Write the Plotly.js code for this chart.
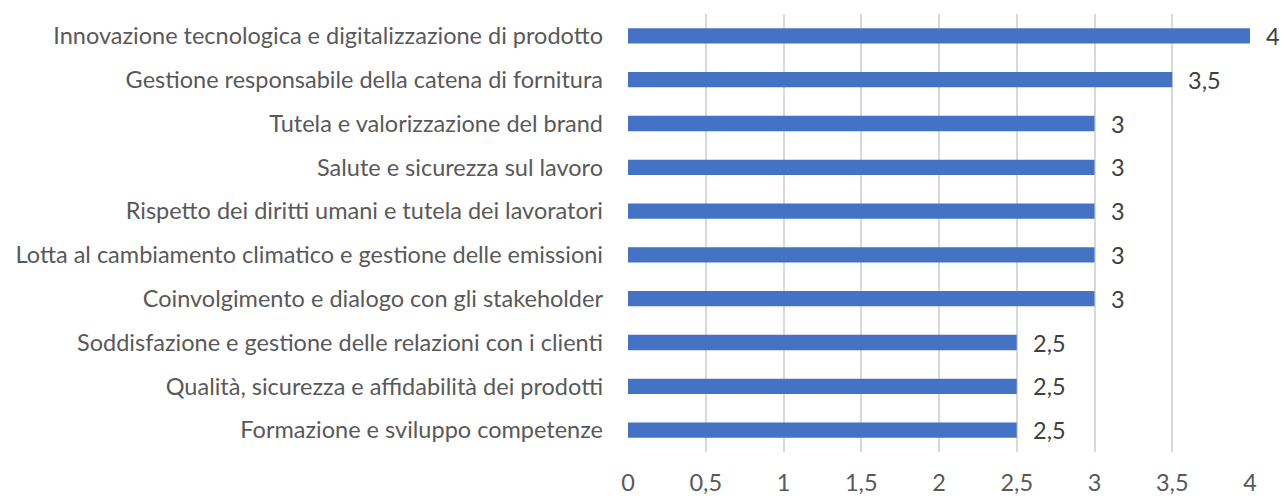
<!DOCTYPE html>
<html>
<head>
<meta charset="utf-8">
<script src="https://cdn.plot.ly/plotly-3.0.1.min.js"></script>
<style>html,body{margin:0;padding:0;background:#fff;}#chart{width:1282px;height:497px;}</style>
</head>
<body>
<div id="chart"></div>
<script>
const categories = [
  "Innovazione tecnologica e digitalizzazione di prodotto",
  "Gestione responsabile della catena di fornitura",
  "Tutela e valorizzazione del brand",
  "Salute e sicurezza sul lavoro",
  "Rispetto dei diritti umani e tutela dei lavoratori",
  "Lotta al cambiamento climatico e gestione delle emissioni",
  "Coinvolgimento e dialogo con gli stakeholder",
  "Soddisfazione e gestione delle relazioni con i clienti",
  "Qualità, sicurezza e affidabilità dei prodotti",
  "Formazione e sviluppo competenze"
];
const values = [4, 3.5, 3, 3, 3, 3, 3, 2.5, 2.5, 2.5];
const tickVals = [0, 0.5, 1, 1.5, 2, 2.5, 3, 3.5, 4];
const tickText = ["0", "0,5", "1", "1,5", "2", "2,5", "3", "3,5", "4"];

const fmt = v => String(v).replace('.', ',');
const FONT = "Lato, Liberation Sans, Arial, sans-serif";
const FS = 23.5;

const trace = {
  type: 'bar',
  orientation: 'h',
  x: values,
  y: categories,
  marker: {color: '#4472C4'},
  hoverinfo: 'none'
};

const annotations = values.map((v, i) => ({
  x: v, y: categories[i], xref: 'x', yref: 'y',
  text: fmt(v), showarrow: false, xanchor: 'left', xshift: 14,
  font: {family: FONT, size: FS, color: '#404040'}
}));

const layout = {
  width: 1282, height: 497,
  margin: {l: 628, r: 32, t: 14, b: 45},
  paper_bgcolor: '#fff', plot_bgcolor: '#fff',
  bargap: 0.65,
  showlegend: false,
  xaxis: {
    range: [0, 4], tickvals: tickVals, ticktext: tickText,
    showgrid: true, gridcolor: '#d9d9d9', gridwidth: 2,
    zeroline: false, showline: false, ticks: '',
    ticklabelstandoff: 14,
    tickfont: {family: FONT, size: FS, color: '#595959'},
    fixedrange: true
  },
  yaxis: {
    autorange: 'reversed', showgrid: false, zeroline: false, showline: false,
    ticks: '', ticklabelstandoff: 24,
    tickfont: {family: FONT, size: FS, color: '#595959'},
    fixedrange: true
  },
  annotations: annotations
};

Plotly.newPlot('chart', [trace], layout, {displayModeBar: false, staticPlot: true});
</script>
</body>
</html>
